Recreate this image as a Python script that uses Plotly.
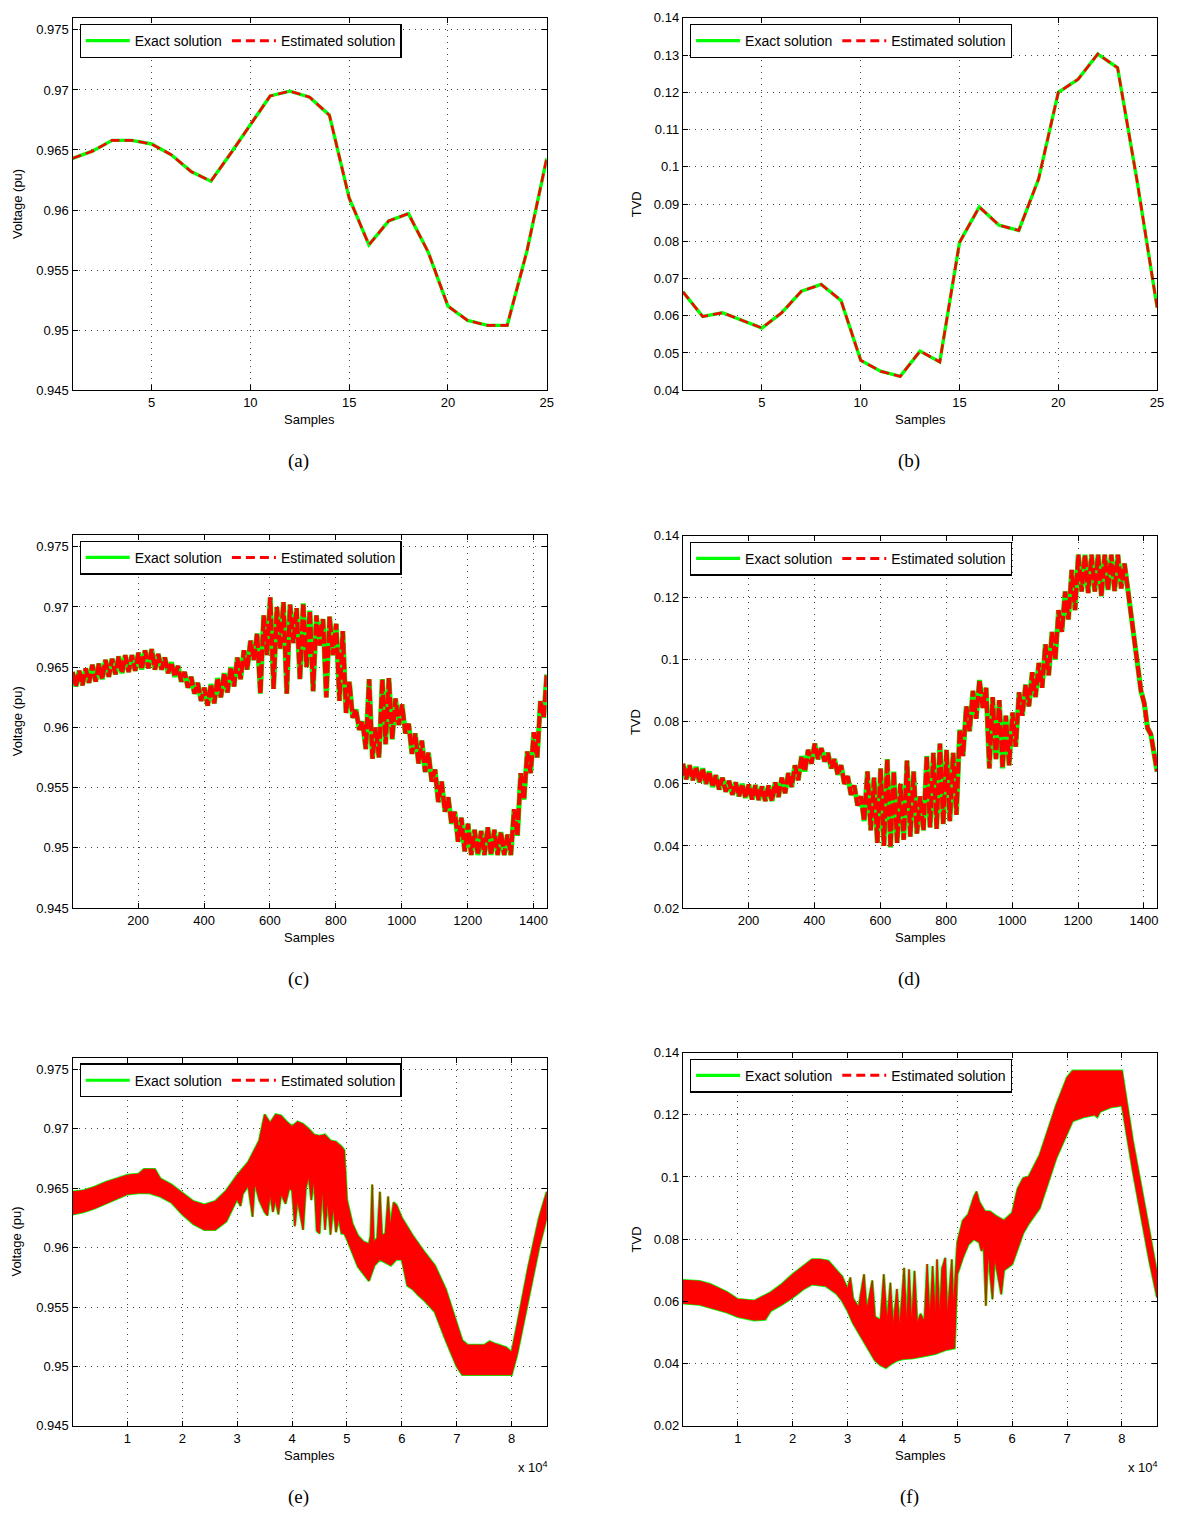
import plotly.graph_objects as go

W, H = 1181, 1518

# ---------------- data ----------------
# (a) / (b): 25 samples
ab_samples = list(range(1, 26))
a_voltage = [0.9643, 0.9649, 0.9658, 0.9658, 0.9655, 0.9646, 0.9632, 0.9624, 0.9647, 0.9671,
             0.9695, 0.9699, 0.9694, 0.9679, 0.9610, 0.9571, 0.9591, 0.9597, 0.9565, 0.9520,
             0.9508, 0.9504, 0.9504, 0.9566, 0.9643]
b_tvd = [0.0664, 0.0598, 0.0608, 0.0587, 0.0567, 0.0608, 0.0666, 0.0684, 0.0641, 0.0480,
         0.0451, 0.0437, 0.0505, 0.0476, 0.0797, 0.0892, 0.0843, 0.0829, 0.0967, 0.1200,
         0.1235, 0.1303, 0.1266, 0.0958, 0.0622]

# (c) / (d): 1440 samples, read as alternating high / low values every 20 samples
cd_x = [1, 21, 41, 61, 81, 101, 121, 141, 161, 181, 201, 221, 241, 261, 281, 301, 321, 341,
        361, 381, 401, 421, 441, 461, 481, 501, 521, 541, 561, 581, 601, 621, 641, 661, 681,
        701, 721, 741, 761, 781, 801, 821, 841, 861, 881, 901, 921, 941, 961, 981, 1001, 1021,
        1041, 1061, 1081, 1101, 1121, 1141, 1161, 1181, 1201, 1221, 1241, 1261, 1281, 1301,
        1321, 1341, 1361, 1381, 1401, 1421]
cd_x_off = [11, 31, 51, 71, 91, 111, 131, 151, 171, 191, 211, 231, 251, 271, 291, 311, 331, 351,
            371, 391, 411, 431, 451, 471, 491, 511, 531, 551, 571, 591, 611, 631, 651, 671, 691,
            711, 731, 751, 771, 791, 811, 831, 851, 871, 891, 911, 931, 951, 971, 991, 1011, 1031,
            1051, 1071, 1091, 1111, 1131, 1151, 1171, 1191, 1211, 1231, 1251, 1271, 1291, 1311,
            1331, 1351, 1371, 1391, 1411, 1431]
c_hi = [0.9646, 0.9647, 0.9649, 0.9652, 0.9653, 0.9656, 0.9657, 0.9659, 0.9660, 0.9660,
        0.9662, 0.9664, 0.9665, 0.9661, 0.9658, 0.9654, 0.9651, 0.9646, 0.9642, 0.9637,
        0.9633, 0.9636, 0.9641, 0.9645, 0.9650, 0.9658, 0.9664, 0.9672, 0.9678, 0.9693,
        0.9708, 0.9700, 0.9704, 0.9702, 0.9699, 0.9703, 0.9697, 0.9693, 0.9690, 0.9692,
        0.9686, 0.9680, 0.9638, 0.9615, 0.9605, 0.9640, 0.9600, 0.9640, 0.9641, 0.9624,
        0.9619, 0.9603, 0.9595, 0.9589, 0.9579, 0.9565, 0.9555, 0.9542, 0.9530, 0.9525,
        0.9520, 0.9515, 0.9514, 0.9517, 0.9515, 0.9513, 0.9511, 0.9532, 0.9562, 0.9580,
        0.9596, 0.9622]
c_lo = [0.9634, 0.9635, 0.9637, 0.9638, 0.9640, 0.9642, 0.9644, 0.9645, 0.9646, 0.9647,
        0.9648, 0.9649, 0.9648, 0.9648, 0.9645, 0.9642, 0.9638, 0.9633, 0.9628, 0.9622,
        0.9618, 0.9620, 0.9625, 0.9629, 0.9634, 0.9640, 0.9648, 0.9656, 0.9628, 0.9660,
        0.9632, 0.9665, 0.9628, 0.9670, 0.9640, 0.9650, 0.9630, 0.9668, 0.9625, 0.9660,
        0.9622, 0.9612, 0.9608, 0.9598, 0.9582, 0.9574, 0.9575, 0.9586, 0.9590, 0.9602,
        0.9595, 0.9578, 0.9570, 0.9563, 0.9555, 0.9538, 0.9530, 0.9520, 0.9505, 0.9497,
        0.9494, 0.9494, 0.9494, 0.9494, 0.9494, 0.9494, 0.9494, 0.9510, 0.9540, 0.9562,
        0.9575, 0.9608]
c_last = 0.9644
d_hi = [0.0665, 0.0660, 0.0655, 0.0650, 0.0640, 0.0628, 0.0620, 0.0610, 0.0605, 0.0600,
        0.0598, 0.0596, 0.0592, 0.0595, 0.0605, 0.0620, 0.0635, 0.0660, 0.0690, 0.0710,
        0.0730, 0.0715, 0.0700, 0.0680, 0.0660, 0.0625, 0.0595, 0.0560, 0.0640, 0.0620,
        0.0650, 0.0680, 0.0640, 0.0600, 0.0675, 0.0640, 0.0560, 0.0690, 0.0700, 0.0730,
        0.0710, 0.0700, 0.0775, 0.0850, 0.0900, 0.0935, 0.0910, 0.0880, 0.0870, 0.0820,
        0.0830, 0.0895, 0.0920, 0.0960, 0.0990, 0.1050, 0.1090, 0.1160, 0.1220, 0.1290,
        0.1339, 0.1339, 0.1339, 0.1339, 0.1339, 0.1339, 0.1339, 0.1310, 0.1140, 0.0970,
        0.0860, 0.0760]
d_lo = [0.0615, 0.0612, 0.0605, 0.0600, 0.0590, 0.0582, 0.0575, 0.0565, 0.0560, 0.0555,
        0.0550, 0.0548, 0.0545, 0.0545, 0.0558, 0.0570, 0.0590, 0.0612, 0.0640, 0.0665,
        0.0680, 0.0672, 0.0650, 0.0630, 0.0600, 0.0565, 0.0530, 0.0480, 0.0450, 0.0410,
        0.0400, 0.0395, 0.0410, 0.0420, 0.0430, 0.0440, 0.0450, 0.0460, 0.0455, 0.0470,
        0.0480, 0.0500, 0.0690, 0.0770, 0.0810, 0.0845, 0.0650, 0.0680, 0.0650, 0.0660,
        0.0720, 0.0820, 0.0850, 0.0880, 0.0910, 0.0950, 0.1000, 0.1090, 0.1130, 0.1160,
        0.1220, 0.1215, 0.1220, 0.1205, 0.1225, 0.1222, 0.1230, 0.1230, 0.1060, 0.0900,
        0.0780, 0.0700]
d_last = 0.0640

# (e) / (f): 86400 samples, read as upper / lower envelopes of the band
e_up_x = [0, 2000, 4000, 6000, 8000, 10000, 12000, 13000, 15000, 16000, 18000, 20000, 22000,
          24000, 26000, 28000, 30000, 32000, 34000, 35000, 36000, 37000, 38000, 39000, 40000,
          41000, 42000, 43000, 44000, 45000, 46000, 47000, 48000, 49000, 49500, 50000, 51000,
          52000, 53000, 54000, 54300, 54600, 54900, 55500, 56000, 56400, 57000, 57500, 57900,
          58500, 59000, 60000, 62000, 64000, 66000, 68000, 70000, 71000, 72000, 75000, 76000,
          77000, 79000, 80000, 81000, 83000, 85000, 86400]
e_up = [0.9647, 0.9648, 0.9651, 0.9655, 0.9658, 0.9661, 0.9662, 0.9666, 0.9666, 0.9658,
        0.9653, 0.9646, 0.9639, 0.9636, 0.9639, 0.9648, 0.9661, 0.9672, 0.9690, 0.9712,
        0.9705, 0.9712, 0.9711, 0.9706, 0.9702, 0.9706, 0.9704, 0.9700, 0.9695, 0.9694,
        0.9695, 0.9690, 0.9689, 0.9685, 0.9682, 0.9640, 0.9620, 0.9610, 0.9605, 0.9603,
        0.9610, 0.9653, 0.9605, 0.9608, 0.9647, 0.9610, 0.9612, 0.9643, 0.9618, 0.9638,
        0.9636, 0.9625, 0.9610, 0.9597, 0.9585, 0.9565, 0.9535, 0.9522, 0.9518, 0.9518,
        0.9521, 0.9519, 0.9516, 0.9512, 0.9535, 0.9583, 0.9625, 0.9647]
e_lo_x = [0, 2000, 4000, 6000, 8000, 10000, 12000, 14000, 16000, 18000, 20000, 22000, 24000,
          26000, 28000, 30000, 30600, 31000, 32000, 32800, 33200, 34000, 35000, 35500, 36000,
          36500, 37000, 37500, 38000, 38800, 39500, 40000, 40500, 41000, 42000, 42500, 43000,
          43500, 44000, 44500, 45000, 45500, 46000, 46500, 47000, 47500, 48000, 48500, 49000,
          49500, 50000, 52000, 54000, 55000, 56000, 58000, 59000, 60000, 61000, 62000, 63000,
          64000, 66000, 68000, 70000, 71000, 80000, 81000, 83000, 85000, 86400]
e_lo = [0.9628, 0.9630, 0.9633, 0.9637, 0.9641, 0.9645, 0.9646, 0.9646, 0.9643, 0.9638,
        0.9628, 0.9620, 0.9615, 0.9615, 0.9622, 0.9641, 0.9635, 0.9645, 0.9652, 0.9626,
        0.9655, 0.9640, 0.9630, 0.9627, 0.9645, 0.9630, 0.9640, 0.9628, 0.9645, 0.9637,
        0.9650, 0.9648, 0.9618, 0.9640, 0.9615, 0.9650, 0.9660, 0.9640, 0.9658, 0.9614,
        0.9612, 0.9650, 0.9615, 0.9640, 0.9611, 0.9635, 0.9613, 0.9625, 0.9612, 0.9612,
        0.9607, 0.9584, 0.9572, 0.9585, 0.9590, 0.9585, 0.9590, 0.9590, 0.9568, 0.9565,
        0.9560, 0.9556, 0.9546, 0.9522, 0.9500, 0.9493, 0.9493, 0.9510, 0.9555, 0.9600,
        0.9625]
f_up_x = [0, 3000, 5000, 8000, 10000, 13000, 16000, 18000, 20000, 22000, 23500, 25000, 26500,
          28000, 29000, 30000, 30500, 31000, 32000, 33000, 33500, 34500, 35000, 36000, 36600,
          37200, 37800, 38300, 39000, 39500, 40300, 40800, 41200, 41700, 42200, 42700, 43300,
          44000, 44500, 45000, 45500, 46000, 46300, 46800, 47200, 47800, 48200, 49000, 49300,
          50000, 51000, 52000, 53000, 53500, 54000, 55000, 56000, 57000, 58000, 58500, 60000,
          61000, 62000, 63000, 65000, 68000, 70000, 71000, 80000, 82000, 85000, 86400]
f_up = [0.0668, 0.0665, 0.0655, 0.0630, 0.0607, 0.0602, 0.0629, 0.0655, 0.0687, 0.0715,
        0.0735, 0.0735, 0.0730, 0.0700, 0.0680, 0.0640, 0.0677, 0.0610, 0.0581, 0.0687,
        0.0570, 0.0667, 0.0550, 0.0540, 0.0687, 0.0530, 0.0660, 0.0520, 0.0640, 0.0515,
        0.0708, 0.0520, 0.0703, 0.0525, 0.0698, 0.0530, 0.0560, 0.0535, 0.0720, 0.0540,
        0.0714, 0.0545, 0.0735, 0.0550, 0.0705, 0.0740, 0.0555, 0.0735, 0.0580, 0.0790,
        0.0860, 0.0880, 0.0935, 0.0953, 0.0920, 0.0890, 0.0888, 0.0875, 0.0865, 0.0860,
        0.0885, 0.0962, 0.0996, 0.1001, 0.1070, 0.1230, 0.1320, 0.1341, 0.1341, 0.1113,
        0.0826, 0.0687]
f_lo_x = [0, 3000, 5000, 8000, 10000, 13000, 15000, 16000, 18000, 20000, 22000, 23500, 26000,
          28000, 29000, 30000, 31000, 32000, 33000, 34000, 35000, 36000, 37000, 38000, 39000,
          40000, 42000, 44000, 46000, 48000, 49500, 50000, 51000, 52000, 53000, 54000, 54400,
          54800, 55200, 55600, 56400, 56800, 58000, 58500, 60000, 61000, 62000, 63000, 65000,
          68000, 70000, 71000, 73000, 75000, 75500, 76000, 78000, 80000, 82000, 85000, 86400]
f_lo = [0.0594, 0.0590, 0.0581, 0.0565, 0.0551, 0.0540, 0.0542, 0.0570, 0.0590, 0.0613,
        0.0640, 0.0655, 0.0650, 0.0625, 0.0602, 0.0570, 0.0530, 0.0496, 0.0470, 0.0440,
        0.0410, 0.0395, 0.0387, 0.0400, 0.0410, 0.0415, 0.0418, 0.0425, 0.0432, 0.0445,
        0.0450, 0.0687, 0.0740, 0.0783, 0.0800, 0.0790, 0.0762, 0.0780, 0.0586, 0.0760,
        0.0607, 0.0740, 0.0623, 0.0700, 0.0720, 0.0770, 0.0820, 0.0850, 0.0900, 0.1060,
        0.1140, 0.1180, 0.1193, 0.1200, 0.1193, 0.1210, 0.1225, 0.1230, 0.1017, 0.0730,
        0.0613]

# tick labels
volt_ticks = [0.945, 0.95, 0.955, 0.96, 0.965, 0.97, 0.975]
volt_ticktext = ["0.945", "0.95", "0.955", "0.96", "0.965", "0.97", "0.975"]
tvd_ticks_b = [0.04, 0.05, 0.06, 0.07, 0.08, 0.09, 0.1, 0.11, 0.12, 0.13, 0.14]
tvd_ticktext_b = ["0.04", "0.05", "0.06", "0.07", "0.08", "0.09", "0.1", "0.11", "0.12", "0.13", "0.14"]
tvd_ticks_df = [0.02, 0.04, 0.06, 0.08, 0.1, 0.12, 0.14]
tvd_ticktext_df = ["0.02", "0.04", "0.06", "0.08", "0.1", "0.12", "0.14"]
ab_xticks = [5, 10, 15, 20, 25]
cd_xticks = [200, 400, 600, 800, 1000, 1200, 1400]
ef_xticks = [10000, 20000, 30000, 40000, 50000, 60000, 70000, 80000]
ef_xticktext = ["1", "2", "3", "4", "5", "6", "7", "8"]

legend_names = ["Exact solution", "Estimated solution"]
captions = ["(a)", "(b)", "(c)", "(d)", "(e)", "(f)"]

# ---------------- layout helpers ----------------
GREEN = "#00ff00"
RED = "#ff0000"
FONT = "Liberation Sans, Arial, sans-serif"

# pixel boxes of each plot area: (left, right, top, bottom)
boxes = [
    (73, 550, 11, 387),
    (687, 1164, 11, 387),
    (73, 550, 533, 910),
    (687, 1164, 534, 910),
    (73, 550, 1061, 1433),
    (687, 1164, 1056, 1433),
]

fig = go.Figure()


def ax_name(i, kind):
    return kind if i == 0 else f"{kind}{i + 1}"


def ref(i, kind):
    return kind[0] if i == 0 else f"{kind[0]}{i + 1}"


def add_line_pair(i, xs, ys, gw=3.4, rw=2.6, dash="9px,5px"):
    fig.add_trace(go.Scatter(x=xs, y=ys, mode="lines", line=dict(color=GREEN, width=gw),
                             xaxis=ref(i, "x"), yaxis=ref(i, "y"), showlegend=False))
    fig.add_trace(go.Scatter(x=xs, y=ys, mode="lines", line=dict(color=RED, width=rw, dash=dash),
                             xaxis=ref(i, "x"), yaxis=ref(i, "y"), showlegend=False))


def add_band(i, ux, uy, lx, ly):
    px = list(ux) + list(reversed(lx))
    py = list(uy) + list(reversed(ly))
    fig.add_trace(go.Scatter(x=px, y=py, mode="lines", fill="toself", fillcolor=GREEN,
                             line=dict(color=GREEN, width=2.6), xaxis=ref(i, "x"), yaxis=ref(i, "y"),
                             showlegend=False))
    fig.add_trace(go.Scatter(x=px, y=py, mode="lines", fill="toself", fillcolor=RED,
                             line=dict(color=RED, width=1), xaxis=ref(i, "x"), yaxis=ref(i, "y"),
                             showlegend=False))


def zigzag(xa, xb, hi, lo):
    xs, ys = [], []
    for a, b, h, l in zip(xa, xb, hi, lo):
        xs += [a, b]
        ys += [h, l]
    return xs, ys


# (a), (b)
add_line_pair(0, ab_samples, a_voltage)
add_line_pair(1, ab_samples, b_tvd)
# (c), (d)
cx, cy = zigzag(cd_x, cd_x_off, c_hi, c_lo)
add_line_pair(2, cx + [1440], cy + [c_last], gw=5.2, rw=4.2, dash="12px,3px")
dx, dy = zigzag(cd_x, cd_x_off, d_hi, d_lo)
add_line_pair(3, dx + [1440], dy + [d_last], gw=5.2, rw=4.2, dash="12px,3px")
# (e), (f)
add_band(4, e_up_x, e_up, e_lo_x, e_lo)
add_band(5, f_up_x, f_up, f_lo_x, f_lo)

# legend-only traces, one legend per panel
for i in range(6):
    lg = "legend" if i == 0 else f"legend{i + 1}"
    fig.add_trace(go.Scatter(x=[None], y=[None], mode="lines", name=legend_names[0],
                             line=dict(color=GREEN, width=3.2), legend=lg,
                             xaxis=ref(i, "x"), yaxis=ref(i, "y")))
    fig.add_trace(go.Scatter(x=[None], y=[None], mode="lines", name=legend_names[1],
                             line=dict(color=RED, width=3, dash="9px,5px"), legend=lg,
                             xaxis=ref(i, "x"), yaxis=ref(i, "y")))

xranges = [[1, 25], [1, 25], [1, 1440], [1, 1440], [1, 86400], [1, 86400]]
yranges = [[0.945, 0.976], [0.04, 0.14], [0.945, 0.976], [0.02, 0.14], [0.945, 0.976], [0.02, 0.14]]
xtv = [ab_xticks, ab_xticks, cd_xticks, cd_xticks, ef_xticks, ef_xticks]
xtt = [[str(v) for v in ab_xticks], [str(v) for v in ab_xticks],
       [str(v) for v in cd_xticks], [str(v) for v in cd_xticks], ef_xticktext, ef_xticktext]
ytv = [volt_ticks, tvd_ticks_b, volt_ticks, tvd_ticks_df, volt_ticks, tvd_ticks_df]
ytt = [volt_ticktext, tvd_ticktext_b, volt_ticktext, tvd_ticktext_df, volt_ticktext, tvd_ticktext_df]
ytitles = ["Voltage (pu)", "TVD", "Voltage (pu)", "TVD", "Voltage (pu)", "TVD"]
ytitle_off = [56, 47, 56, 47, 56, 47]

common = dict(showline=True, linecolor="black", linewidth=1.3, mirror="ticks", ticks="inside",
              ticklen=5, tickcolor="black", showgrid=True, gridcolor="#444444", griddash="1px,5px",
              gridwidth=1, zeroline=False, tickfont=dict(family=FONT, size=13, color="black"),
              fixedrange=True)

annotations = []
layout_updates = {}
for i, (l, r, t, b) in enumerate(boxes):
    xd = [l / W, r / W]
    yd = [1 - b / H, 1 - t / H]
    layout_updates[ax_name(i, "xaxis")] = dict(
        domain=xd, range=xranges[i], anchor=ref(i, "y"), tickmode="array",
        tickvals=xtv[i], ticktext=xtt[i], **common)
    layout_updates[ax_name(i, "yaxis")] = dict(
        domain=yd, range=yranges[i], anchor=ref(i, "x"), tickmode="array",
        tickvals=ytv[i], ticktext=ytt[i], **common)
    lg = "legend" if i == 0 else f"legend{i + 1}"
    layout_updates[lg] = dict(
        x=(l + 7) / W, y=1 - (t + 6) / H, xanchor="left", yanchor="top", orientation="h",
        bgcolor="white", bordercolor="black", borderwidth=1.2, itemwidth=44,
        font=dict(family=FONT, size=14, color="black"), tracegroupgap=0,
        itemclick=False, itemdoubleclick=False)
    cx_px = (l + r) / 2
    # x axis title
    annotations.append(dict(text="Samples", x=cx_px / W, y=1 - (b + 30) / H, xref="paper", yref="paper",
                            showarrow=False, font=dict(family=FONT, size=13, color="black"),
                            xanchor="center", yanchor="middle"))
    # y axis title
    annotations.append(dict(text=ytitles[i], x=(l - ytitle_off[i]) / W, y=1 - ((t + b) / 2) / H,
                            xref="paper", yref="paper", showarrow=False, textangle=-90,
                            font=dict(family=FONT, size=13, color="black"),
                            xanchor="center", yanchor="middle"))
    # caption
    annotations.append(dict(text=captions[i], x=(cx_px - 11) / W, y=1 - (b + 72) / H, xref="paper",
                            yref="paper", showarrow=False,
                            font=dict(family="Liberation Serif, Times New Roman, serif", size=19,
                                      color="black"),
                            xanchor="center", yanchor="middle"))

# exponent labels for (e), (f)
for i in (4, 5):
    l, r, t, b = boxes[i]
    annotations.append(dict(text="x 10<sup>4</sup>", x=(r - 14) / W, y=1 - (b + 42) / H, xref="paper",
                            yref="paper", showarrow=False, font=dict(family=FONT, size=13, color="black"),
                            xanchor="center", yanchor="middle"))

fig.update_layout(width=W, height=H, margin=dict(l=0, r=0, t=0, b=0), paper_bgcolor="white",
                  plot_bgcolor="white", annotations=annotations, **layout_updates)

fig.write_html("out.html")
